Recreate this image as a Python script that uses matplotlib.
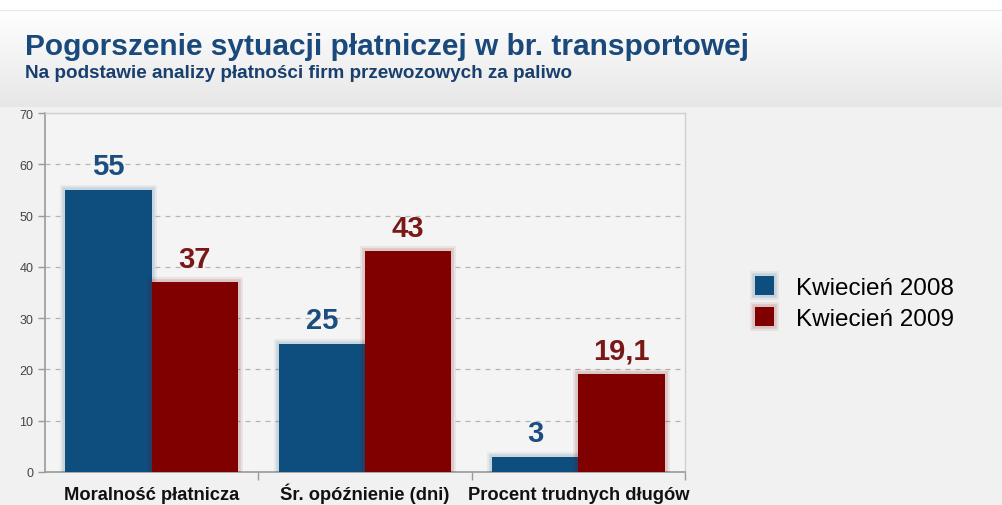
import numpy as np
import matplotlib
matplotlib.use("Agg")
import matplotlib.pyplot as plt
import matplotlib.patheffects as pe

# dane
kategorie = ["Moralność płatnicza", "Śr. opóźnienie (dni)", "Procent trudnych długów"]
kwiecien_2008 = [55, 25, 3]
kwiecien_2009 = [37, 43, 19.1]
etykiety_2008 = ["55", "25", "3"]
etykiety_2009 = ["37", "43", "19,1"]
serie = ["Kwiecień 2008", "Kwiecień 2009"]

NIEBIESKI = "#0d4e7e"
CZERWONY = "#800000"
NIEB_TXT = "#1b4d7e"
CZER_TXT = "#7b1717"

plt.rcParams["font.family"] = ["Liberation Sans", "DejaVu Sans"]

W, H = 1003, 506
fig = plt.figure(figsize=(W / 100, H / 100), dpi=100, facecolor="#f1f1f1")

# naglowek z gradientem
bg = fig.add_axes([0, 0, 1, 1], zorder=-10)
bg.set_axis_off()
grad = np.linspace(1.0, 0.0, 256).reshape(-1, 1)
top = np.array([1.0, 1.0, 1.0])
bot = np.array([0.905, 0.905, 0.905])
img = grad[..., None] * top + (1 - grad[..., None]) * bot
bg.imshow(img, extent=[0, W, 108, 11], aspect="auto")
bg.fill_between([0, W], 0, 11, color="white")
bg.plot([0, W], [11, 11], color="#e8e8e8", lw=0.8)
bg.set_xlim(0, W)
bg.set_ylim(H, 0)

fig.text(25 / W, 1 - 47 / H, "Pogorszenie sytuacji płatniczej w br. transportowej",
         fontsize=21.5, fontweight="bold", color="#1a4a7c", va="center")
fig.text(25 / W, 1 - 73 / H, "Na podstawie analizy płatności firm przewozowych za paliwo",
         fontsize=13.6, fontweight="bold", color="#183f6e", va="center")

ax = fig.add_axes([45 / W, (H - 473) / H, (685 - 45) / W, (473 - 114) / H])
ax.set_facecolor("#f4f4f4")

x = np.arange(len(kategorie))
w = 0.405
b1 = ax.bar(x - w / 2, kwiecien_2008, w, color=NIEBIESKI, zorder=3, label=serie[0])
b2 = ax.bar(x + w / 2, kwiecien_2009, w, color=CZERWONY, zorder=3, label=serie[1])
for p in b1:
    p.set_path_effects([pe.withStroke(linewidth=7, foreground=NIEBIESKI, alpha=0.07),
                        pe.withStroke(linewidth=4, foreground=NIEBIESKI, alpha=0.12),
                        pe.Normal()])
for p in b2:
    p.set_path_effects([pe.withStroke(linewidth=7, foreground=CZERWONY, alpha=0.07),
                        pe.withStroke(linewidth=4, foreground=CZERWONY, alpha=0.12),
                        pe.Normal()])

for xi, v, t in zip(x, kwiecien_2008, etykiety_2008):
    ax.annotate(t, (xi - w / 2, v), xytext=(0, 7), textcoords="offset points",
                ha="center", va="bottom", fontsize=21, fontweight="bold", color=NIEB_TXT)
for xi, v, t in zip(x, kwiecien_2009, etykiety_2009):
    ax.annotate(t, (xi + w / 2, v), xytext=(0, 7), textcoords="offset points",
                ha="center", va="bottom", fontsize=21, fontweight="bold", color=CZER_TXT)

ax.set_xlim(-0.5, 2.5)
ax.set_ylim(0, 70)
ax.set_yticks(range(0, 71, 10))
ax.yaxis.grid(True, linestyle=(0, (4, 4)), color="#b5b5b5", lw=0.9, zorder=0)
ax.set_axisbelow(True)
ax.tick_params(axis="y", labelsize=9, labelcolor="#444444", color="#9a9a9a", length=5, width=1)

# etykiety kategorii na wspolnej linii bazowej
ax.set_xticks([])
for xi, k in zip(x, kategorie):
    ax.text(xi, -0.075, k, transform=ax.get_xaxis_transform(), ha="center", va="baseline",
            fontsize=13.2, fontweight="bold", color="#111111")
ax.set_xticks([0.5, 1.5, 2.5], minor=True)
ax.tick_params(axis="x", which="minor", length=6, color="#9a9a9a", width=1)

for s in ["left", "bottom"]:
    ax.spines[s].set_color("#9a9a9a")
    ax.spines[s].set_linewidth(1.2)
for s in ["top", "right"]:
    ax.spines[s].set_color("#d0d0d0")
    ax.spines[s].set_linewidth(1.0)

fig.legend(handles=[b1, b2], labels=serie, loc="center left",
           bbox_to_anchor=(733 / W, 1 - 304 / H), frameon=False, fontsize=17.5,
           handlelength=0.8, handleheight=0.8, handletextpad=0.9, labelspacing=0.35)

fig.savefig("out.png", dpi=100, facecolor=fig.get_facecolor())
